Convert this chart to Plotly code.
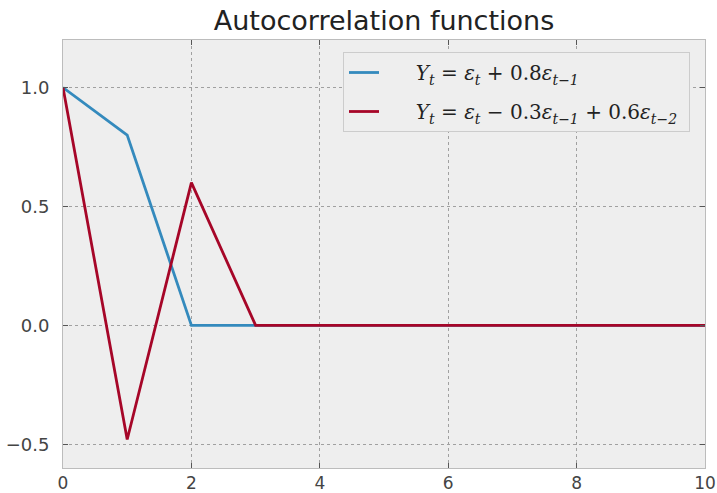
import plotly.graph_objects as go

# Lags and theoretical autocorrelations of the two MA processes
lags = [0, 1, 2, 3, 4, 5, 6, 7, 8, 9, 10]
acf_ma1 = [1.0, 0.8, 0.0, 0.0, 0.0, 0.0, 0.0, 0.0, 0.0, 0.0, 0.0]
acf_ma2 = [1.0, -0.48, 0.6, 0.0, 0.0, 0.0, 0.0, 0.0, 0.0, 0.0, 0.0]

PAD = "&nbsp;" * 5
label_ma1 = PAD + "<i>Y<sub>t</sub></i> = <i>ε<sub>t</sub></i> + 0.8<i>ε<sub>t−1</sub></i>"
label_ma2 = (PAD + "<i>Y<sub>t</sub></i> = <i>ε<sub>t</sub></i> − 0.3<i>ε<sub>t−1</sub></i>"
             " + 0.6<i>ε<sub>t−2</sub></i>&nbsp;")

x_ticks = [0, 2, 4, 6, 8, 10]
y_ticks = [-0.5, 0.0, 0.5, 1.0]
y_tick_text = ["−0.5", "0.0", "0.5", "1.0"]

BLUE = "#348ABD"
RED = "#A60628"

fig = go.Figure()
fig.add_trace(go.Scatter(x=lags, y=acf_ma1, mode="lines", name=label_ma1,
                         line=dict(color=BLUE, width=2.8), legendgroup="a"))
fig.add_trace(go.Scatter(x=lags, y=acf_ma2, mode="lines", name=label_ma2,
                         line=dict(color=RED, width=2.8), legendgroup="b"))

W, H = 717, 493
ml, mr, mt, mb = 63, 12, 40, 25
pw, ph = W - ml - mr, H - mt - mb

axis_common = dict(
    showgrid=True, gridcolor="#a0a0a0", gridwidth=1, griddash="3px,3px",
    showline=True, linecolor="#bcbcbc", linewidth=1, mirror="ticks",
    ticks="inside", ticklen=5, tickwidth=1, tickcolor="#555555",
    zeroline=False, layer="above traces", automargin=False,
)

fig.update_layout(
    width=W, height=H,
    margin=dict(l=ml, r=mr, t=mt, b=mb, autoexpand=False),
    paper_bgcolor="white", plot_bgcolor="#eeeeee",
    title=dict(text="Autocorrelation functions", x=(ml + pw / 2) / W,
               xanchor="center", y=1 - 21 / H, yanchor="middle",
               font=dict(family="DejaVu Sans", size=27, color="#222222")),
    xaxis=dict(range=[0, 10], tickvals=x_ticks, ticktext=[str(v) for v in x_ticks],
               ticklabelstandoff=0,
               tickfont=dict(family="DejaVu Sans", size=17, color="#444444"),
               **axis_common),
    yaxis=dict(range=[-0.6, 1.2], tickvals=y_ticks, ticktext=y_tick_text,
               ticklabelstandoff=9,
               tickfont=dict(family="DejaVu Sans", size=18, color="#444444"),
               **axis_common),
    legend=dict(x=(343 - ml) / pw, y=1 - (52 - mt) / ph, xanchor="left", yanchor="top",
                bgcolor="#eeeeee", bordercolor="#cccccc", borderwidth=1,
                font=dict(family="DejaVu Serif", size=20, color="#222222"),
                traceorder="grouped", tracegroupgap=10, itemwidth=30),
    showlegend=True,
)

fig.write_html("out.html")
